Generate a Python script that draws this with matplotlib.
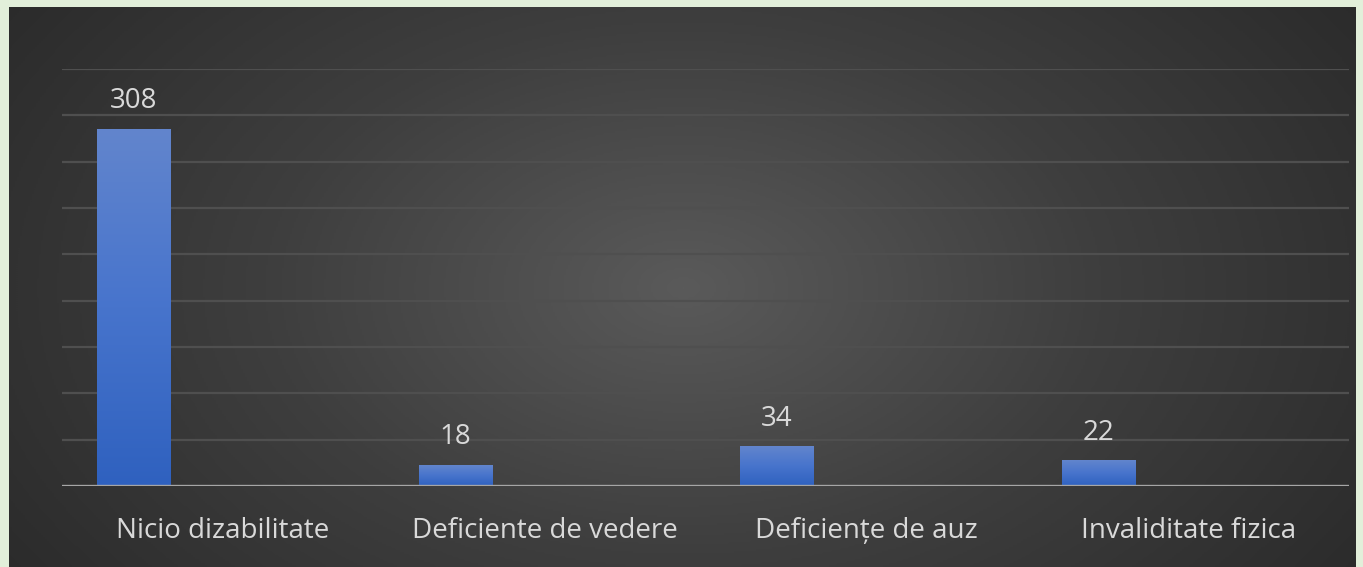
import numpy as np
import matplotlib
matplotlib.use("Agg")
import matplotlib.pyplot as plt
from matplotlib.colors import LinearSegmentedColormap

categories = ["Nicio dizabilitate", "Deficiente de vedere", "Deficiențe de auz", "Invaliditate fizica"]
values = [308, 18, 34, 22]
y_ticks = list(range(0, 361, 40))

W, H = 1363, 567
fig = plt.figure(figsize=(W / 100, H / 100), dpi=100)
fig.patch.set_facecolor("#e2efda")

# dark panel with radial gradient
bg = fig.add_axes([9 / W, 0, (1356 - 9) / W, (H - 7) / H])
bg.set_axis_off()
ny, nx = 280, 680
yy, xx = np.mgrid[0:ny, 0:nx]
cx, cy = nx * 0.5, ny * 0.5
r = np.sqrt(((xx - cx) / (nx * 0.62)) ** 2 + ((yy - cy) / (ny * 0.95)) ** 2)
r = np.clip(r, 0, 1)
bgcmap = LinearSegmentedColormap.from_list("bg", ["#5a5a5a", "#3e3e3e", "#2a2a2a"])
bg.imshow(r, cmap=bgcmap, aspect="auto", extent=[0, 1, 0, 1], vmin=0, vmax=1)
bg.set_xlim(0, 1); bg.set_ylim(0, 1)

ax = fig.add_axes([62 / W, (H - 486) / H, (1349 - 62) / W, (486 - 69) / H])
ax.patch.set_alpha(0)
for t in y_ticks[1:]:
    ax.axhline(t, color="#4f4f4f", lw=1.6, zorder=1)

barcmap = LinearSegmentedColormap.from_list("bar", ["#2f61bf", "#4774cc", "#6285cd"])
grad = np.linspace(0, 1, 256).reshape(-1, 1)
offset = -0.278
bw = 0.227
for i, v in enumerate(values):
    x0 = i + offset - bw / 2
    ax.imshow(grad, cmap=barcmap, aspect="auto", origin="lower",
              extent=[x0, x0 + bw, 0, v], zorder=2)
    ax.annotate(str(v), (i + offset, v), xytext=(0, 10), textcoords="offset points",
                ha="center", va="bottom", color="#d9d9d9", fontsize=20, family="Open Sans")
ax.set_xlim(-0.5, 3.5)
ax.set_ylim(0, 360)
ax.axhline(0, color="#a6a6a6", lw=2.4, zorder=3)

ax.set_xticks(range(len(categories)))
ax.set_xticklabels(categories, color="#d9d9d9", fontsize=20, family="Open Sans")
ax.tick_params(axis="x", length=0, pad=22)
ax.set_yticks([])
for s in ax.spines.values():
    s.set_visible(False)

fig.savefig("out.png", dpi=100, facecolor=fig.get_facecolor())
